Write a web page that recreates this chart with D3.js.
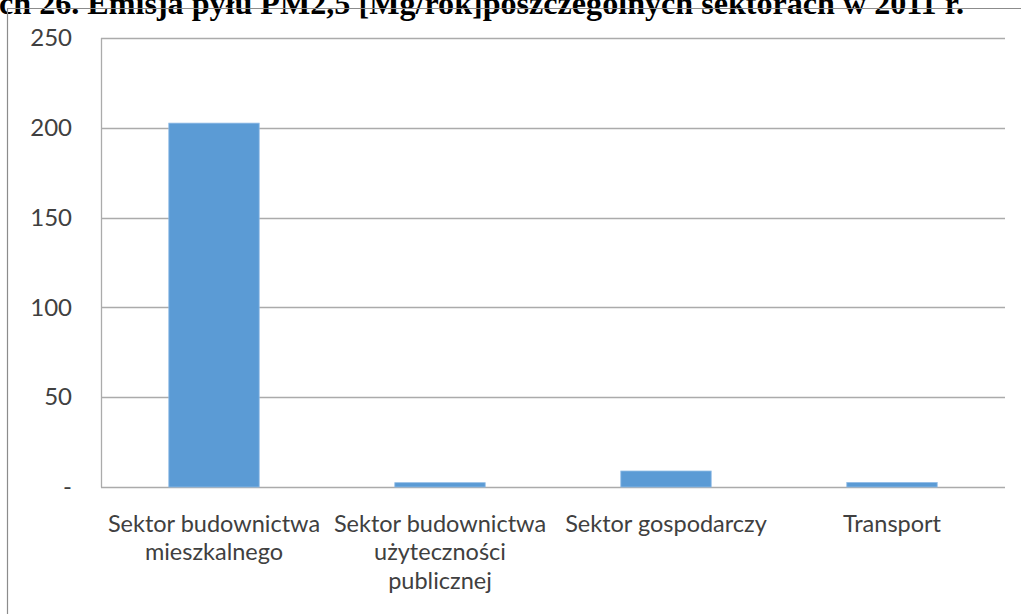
<!DOCTYPE html>
<html>
<head>
<meta charset="utf-8">
<script src="https://cdn.jsdelivr.net/npm/d3@7"></script>
<style>
  html, body { margin: 0; padding: 0; background: #fff; }
  svg { display: block; }
</style>
</head>
<body>
<svg id="chart" width="1021" height="614"></svg>
<script>
// PM2,5 dust emission by sector, 2011 [Mg/rok]
const categories = [
  ["Sektor budownictwa", "mieszkalnego"],
  ["Sektor budownictwa", "użyteczności", "publicznej"],
  ["Sektor gospodarczy"],
  ["Transport"]
];
const values = [202.6, 2.4, 8.9, 2.5];
const yTicks = [0, 50, 100, 150, 200, 250];
const yTickLabels = ["-", "50", "100", "150", "200", "250"];
const titleText = "ch 26. Emisja pyłu PM2,5 [Mg/rok]poszczególnych sektorach w 2011 r.";

const svg = d3.select("#chart");
const W = 1021, H = 614;
const plot = { left: 101, right: 1005, top: 38, bottom: 487 };
const labelFont = "Lato, 'Open Sans', sans-serif";

// title line, running off the top edge of the page
svg.append("text")
  .attr("x", -1).attr("y", 14)
  .attr("font-family", "'Liberation Serif', 'Times New Roman', serif")
  .attr("font-weight", "bold")
  .attr("font-size", 31)
  .attr("fill", "#000")
  .attr("textLength", 965)
  .attr("lengthAdjust", "spacingAndGlyphs")
  .text(titleText);

// outer chart frame (top and left edges)
svg.append("path")
  .attr("d", `M7.5,${H} L7.5,8.5 L${W},8.5`)
  .attr("fill", "none")
  .attr("stroke", "#8c8c8c")
  .attr("stroke-width", 1.2);

const x = d3.scaleBand()
  .domain(d3.range(categories.length))
  .range([plot.left, plot.right])
  .paddingInner(0.6)
  .paddingOuter(0.3);

const y = d3.scaleLinear()
  .domain([0, 250])
  .range([plot.bottom, plot.top]);

// gridlines
svg.append("g")
  .selectAll("line")
  .data(yTicks)
  .join("line")
  .attr("x1", plot.left).attr("x2", plot.right)
  .attr("y1", d => Math.round(y(d)) + 0.5)
  .attr("y2", d => Math.round(y(d)) + 0.5)
  .attr("stroke", "#ababab")
  .attr("stroke-width", 1.3);

// left axis line
svg.append("line")
  .attr("x1", plot.left + 0.5).attr("x2", plot.left + 0.5)
  .attr("y1", y(250)).attr("y2", y(0) + 0.5)
  .attr("stroke", "#ababab")
  .attr("stroke-width", 1.3);

// y axis labels
const yAxis = d3.axisLeft(y)
  .tickValues(yTicks)
  .tickFormat((d, i) => yTickLabels[i])
  .tickSize(0)
  .tickPadding(29);
const gy = svg.append("g")
  .attr("transform", `translate(${plot.left},0)`)
  .call(yAxis);
gy.select(".domain").remove();
gy.selectAll("text")
  .attr("font-family", labelFont)
  .attr("font-size", 24)
  .attr("fill", "#404040");

// bars
svg.append("g")
  .selectAll("rect")
  .data(values)
  .join("rect")
  .attr("x", (d, i) => x(i))
  .attr("width", x.bandwidth())
  .attr("y", d => y(d))
  .attr("height", d => y(0) - y(d))
  .attr("fill", "#5b9bd5")
  .attr("stroke", "#8fbbe6")
  .attr("stroke-width", 0.8);

// category labels, one text per wrapped line
const xl = svg.append("g");
categories.forEach((lines, i) => {
  xl.selectAll(null)
    .data(lines)
    .join("text")
    .attr("x", x(i) + x.bandwidth() / 2)
    .attr("y", (ln, j) => 532 + j * 28.4)
    .attr("text-anchor", "middle")
    .attr("font-family", labelFont)
    .attr("font-size", 23.5)
    .attr("fill", "#404040")
    .text(ln => ln);
});
</script>
</body>
</html>
